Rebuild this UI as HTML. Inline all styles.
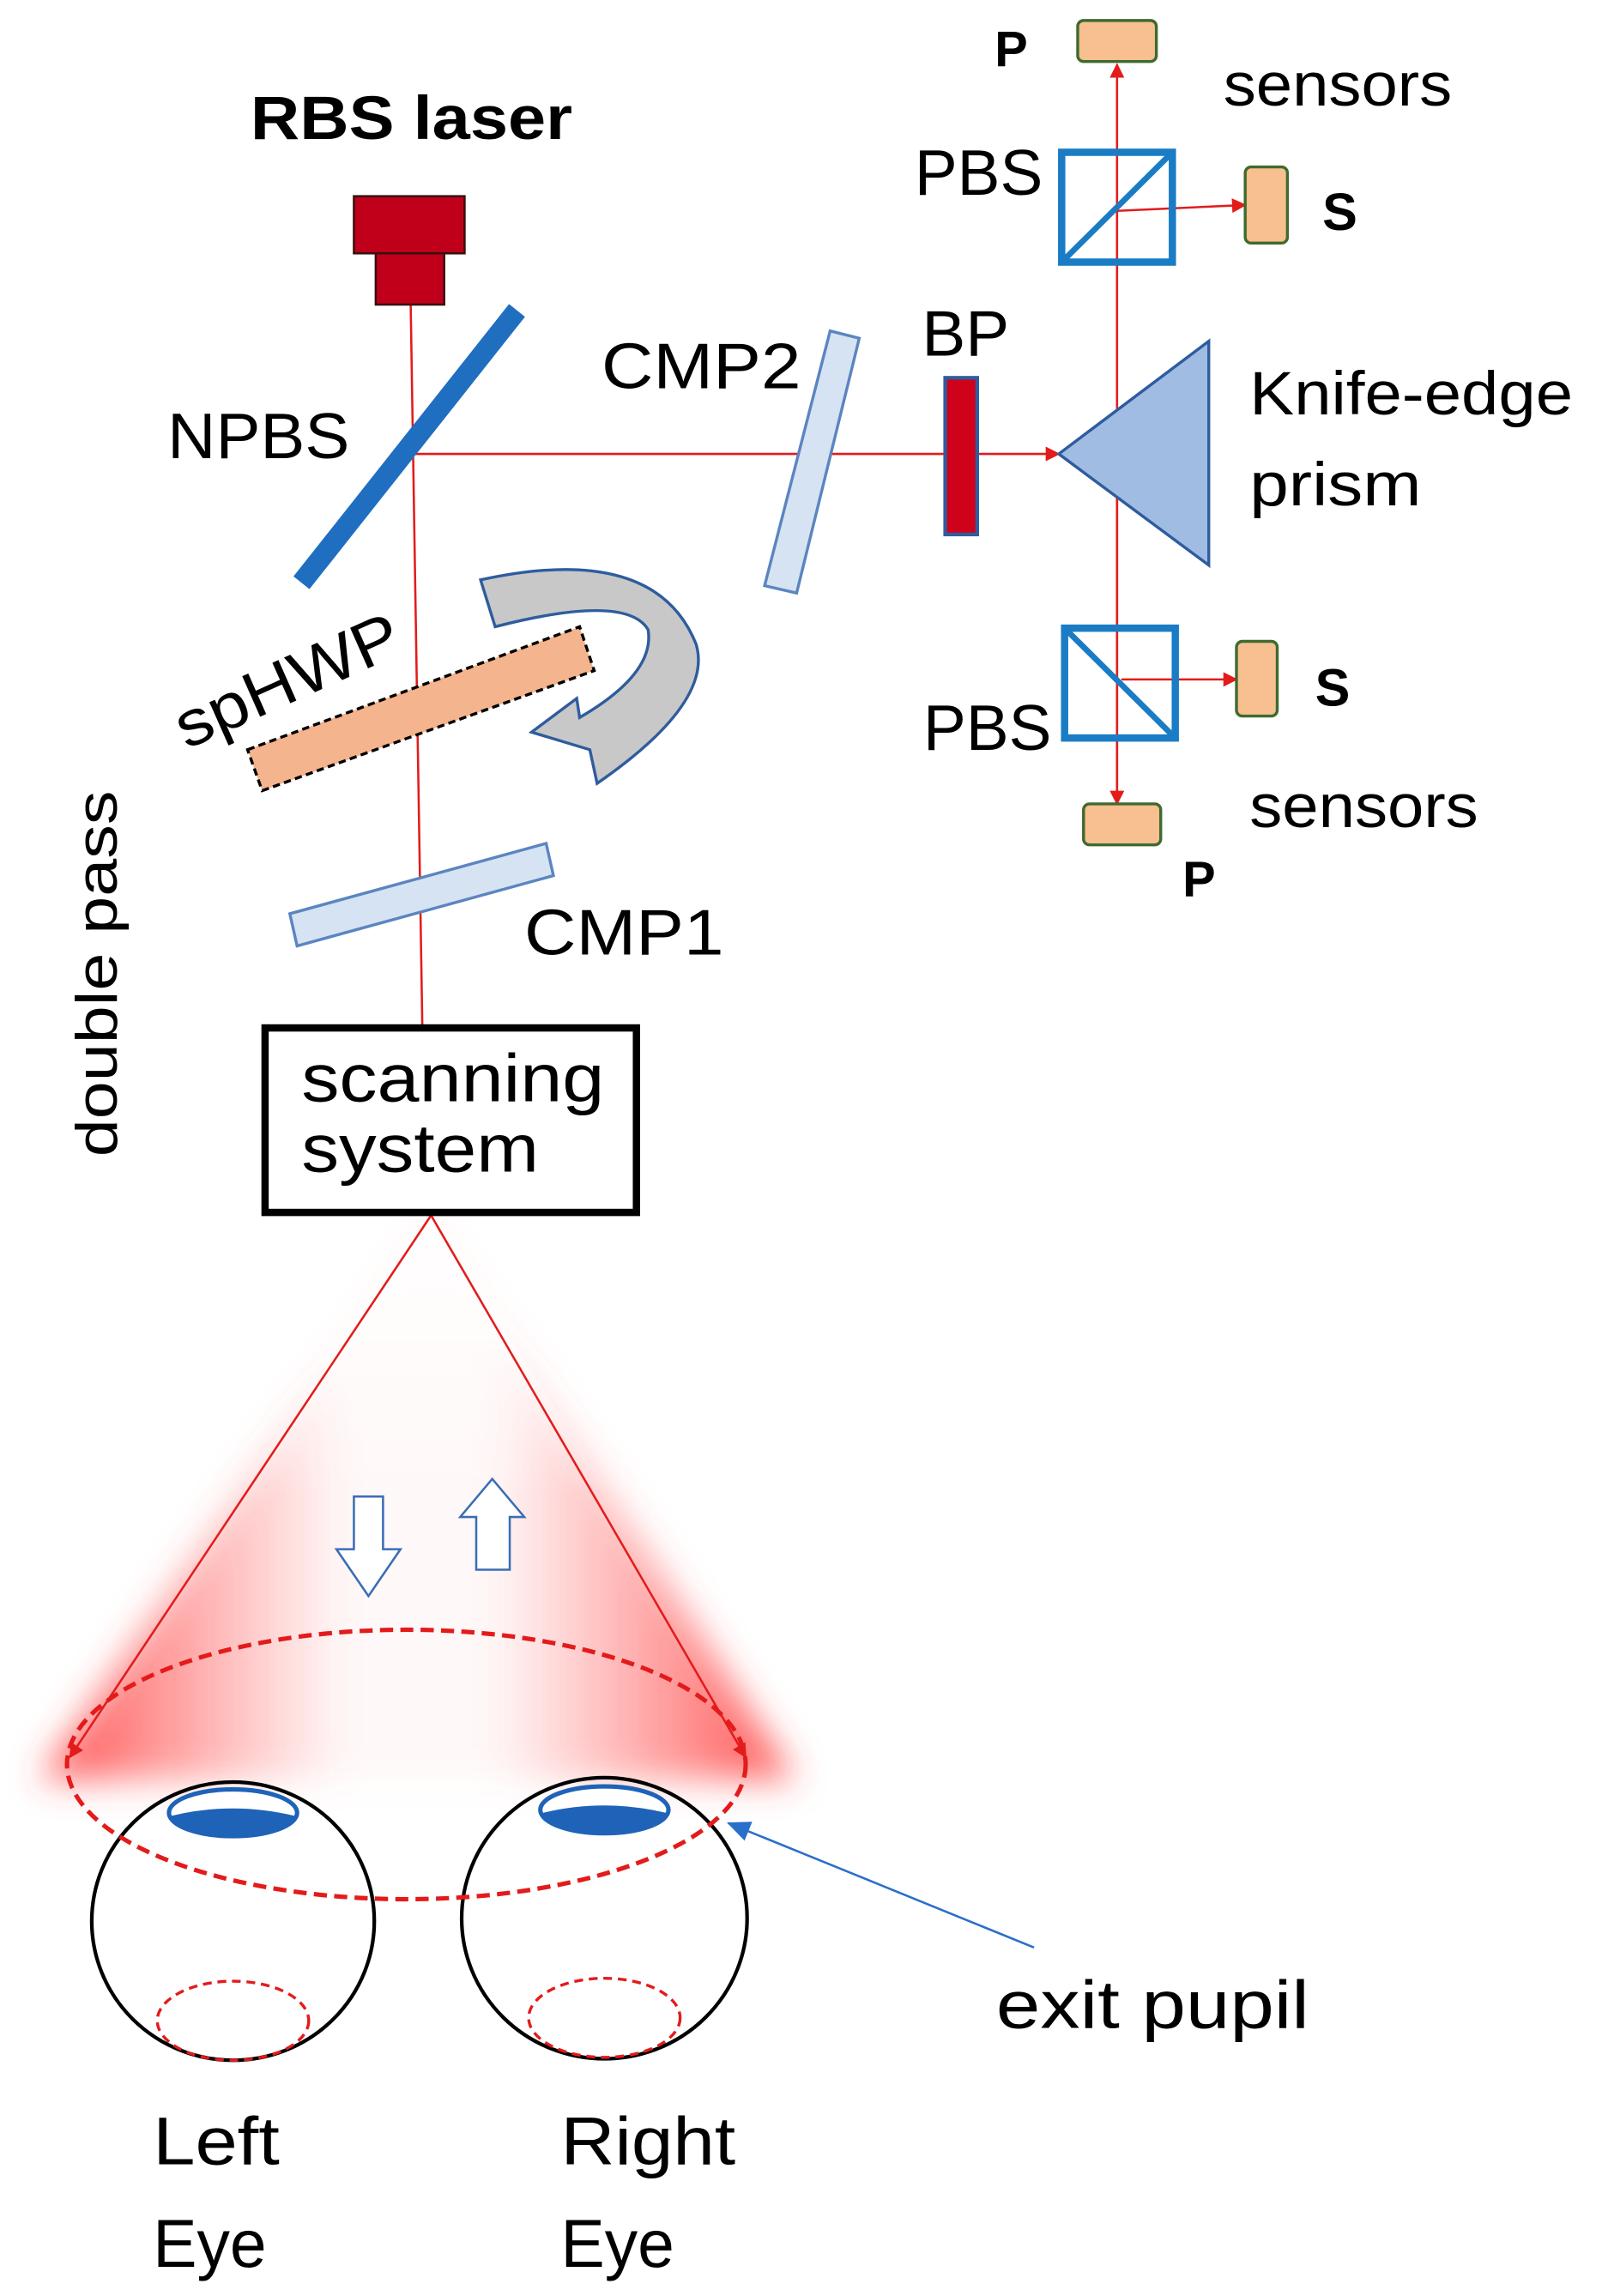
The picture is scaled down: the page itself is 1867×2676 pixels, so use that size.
<!DOCTYPE html>
<html><head><meta charset="utf-8"><style>html,body{margin:0;padding:0;background:#fff}svg{display:block}</style></head>
<body>
<svg width="1867" height="2676" viewBox="0 0 1100 1568" preserveAspectRatio="none" xmlns="http://www.w3.org/2000/svg" font-family="Liberation Sans, sans-serif">
<defs>
<marker id="ar" markerWidth="10" markerHeight="10" refX="9" refY="5" orient="auto" markerUnits="userSpaceOnUse"><path d="M0,0 L10,5 L0,10 z" fill="#e31b1b"/></marker>
<marker id="ab" markerWidth="16" markerHeight="14" refX="15" refY="7" orient="auto" markerUnits="userSpaceOnUse"><path d="M0,0 L16,7 L0,14 z" fill="#2a6fc9"/></marker>
<filter id="bl" x="-20%" y="-20%" width="140%" height="140%"><feGaussianBlur stdDeviation="12"/></filter>
<linearGradient id="cg" x1="0" y1="0" x2="1" y2="0">
<stop offset="0" stop-color="#ff3b3b" stop-opacity="0.9"/><stop offset="0.4" stop-color="#ff6060" stop-opacity="0.05"/><stop offset="0.6" stop-color="#ff6060" stop-opacity="0.05"/><stop offset="1" stop-color="#ff3b3b" stop-opacity="0.9"/></linearGradient>
<linearGradient id="cv" x1="0" y1="0" x2="0" y2="1"><stop offset="0" stop-color="#fff" stop-opacity="0.9"/><stop offset="0.5" stop-color="#fff" stop-opacity="0"/></linearGradient>
</defs>
<rect width="1100" height="1568" fill="#fff"/>
<polygon points="296,830 28,1215 545,1215" fill="url(#cg)" filter="url(#bl)"/>
<polygon points="296,830 28,1215 545,1215" fill="url(#cv)"/>
<line x1="296" y1="830" x2="48" y2="1200" stroke="#e31b1b" stroke-width="1.5" marker-end="url(#ar)"/>
<line x1="296" y1="830" x2="512" y2="1200" stroke="#e31b1b" stroke-width="1.5" marker-end="url(#ar)"/>
<path d="M243,1022 H263 V1058 H275 L253,1090 L231,1058 H243 Z" fill="#fff" stroke="#3a6db5" stroke-width="1.5"/>
<path d="M327,1072 H350 V1036 H360 L338,1010 L316,1036 H327 Z" fill="#fff" stroke="#3a6db5" stroke-width="1.5"/>
<ellipse cx="160" cy="1312" rx="97" ry="95" fill="none" stroke="#000" stroke-width="2.5"/>
<ellipse cx="415" cy="1310" rx="98" ry="96" fill="none" stroke="#000" stroke-width="2.5"/>
<ellipse cx="160" cy="1380" rx="52" ry="27" fill="none" stroke="#e31b1b" stroke-width="2" stroke-dasharray="6,4"/>
<ellipse cx="415" cy="1378" rx="52" ry="27" fill="none" stroke="#e31b1b" stroke-width="2" stroke-dasharray="6,4"/>
<ellipse cx="160" cy="1238" rx="44" ry="16" fill="#fff" stroke="#1f63b8" stroke-width="3"/>
<path d="M118,1240 Q160,1230 202,1240 Q200,1254 160,1255 Q120,1254 118,1240 Z" fill="#1f63b8"/>
<ellipse cx="415" cy="1236" rx="44" ry="16" fill="#fff" stroke="#1f63b8" stroke-width="3"/>
<path d="M373,1238 Q415,1228 457,1238 Q455,1252 415,1253 Q375,1252 373,1238 Z" fill="#1f63b8"/>
<ellipse cx="279" cy="1205" rx="233" ry="92" fill="none" stroke="#e31b1b" stroke-width="3" stroke-dasharray="9,5"/>
<line x1="710" y1="1330" x2="500" y2="1245" stroke="#2a6fc9" stroke-width="1.5" marker-end="url(#ab)"/>
<line x1="282" y1="208" x2="290" y2="702" stroke="#e31b1b" stroke-width="1.5"/>
<line x1="285" y1="310" x2="727" y2="310" stroke="#e31b1b" stroke-width="1.5" marker-end="url(#ar)"/>
<line x1="767" y1="555" x2="767" y2="44" stroke="#e31b1b" stroke-width="1.5" marker-end="url(#ar)"/>
<line x1="767" y1="300" x2="767" y2="549" stroke="#e31b1b" stroke-width="1.5" marker-end="url(#ar)"/>
<line x1="767" y1="144" x2="855" y2="140" stroke="#e31b1b" stroke-width="1.5" marker-end="url(#ar)"/>
<line x1="770" y1="464" x2="849" y2="464" stroke="#e31b1b" stroke-width="1.5" marker-end="url(#ar)"/>
<rect x="243" y="134" width="76" height="39" fill="#c0001a" stroke="#3a1010" stroke-width="1.5"/>
<rect x="258" y="173" width="47" height="35" fill="#c0001a" stroke="#3a1010" stroke-width="1.5"/>
<text x="172" y="95" font-size="42" font-weight="bold" textLength="221" lengthAdjust="spacingAndGlyphs">RBS laser</text>
<line x1="355" y1="212" x2="207" y2="398" stroke="#1f6ec0" stroke-width="14"/>
<text x="115" y="313" font-size="44" textLength="125" lengthAdjust="spacingAndGlyphs">NPBS</text>
<polygon points="570,226 590,231 547,405 525,400" fill="#d6e3f3" stroke="#5b85c0" stroke-width="2"/>
<text x="413" y="265" font-size="44" textLength="137" lengthAdjust="spacingAndGlyphs">CMP2</text>
<rect x="649" y="258" width="22" height="107" fill="#d0021b" stroke="#2e5c9e" stroke-width="2.5"/>
<text x="633" y="243" font-size="44" textLength="60" lengthAdjust="spacingAndGlyphs">BP</text>
<polygon points="727,310 830,233 830,386" fill="#a0bce2" stroke="#2e5c9e" stroke-width="2"/>
<text x="858" y="283" font-size="42" textLength="222" lengthAdjust="spacingAndGlyphs">Knife-edge</text>
<text x="858" y="345" font-size="42" textLength="118" lengthAdjust="spacingAndGlyphs">prism</text>
<rect x="729" y="104" width="76" height="75" fill="none" stroke="#1a7cc4" stroke-width="5"/>
<line x1="729" y1="179" x2="805" y2="104" stroke="#1a7cc4" stroke-width="4"/>
<text x="628" y="133" font-size="44" textLength="88" lengthAdjust="spacingAndGlyphs">PBS</text>
<rect x="740" y="14" width="54" height="28" rx="4" fill="#f8bf90" stroke="#3e6b2e" stroke-width="2"/>
<text x="683" y="45" font-size="34" font-weight="bold">P</text>
<text x="840" y="72" font-size="42" textLength="157" lengthAdjust="spacingAndGlyphs">sensors</text>
<rect x="855" y="114" width="29" height="52" rx="4" fill="#f8bf90" stroke="#3e6b2e" stroke-width="2"/>
<text x="908" y="157" font-size="36" font-weight="bold">S</text>
<rect x="731" y="429" width="76" height="75" fill="none" stroke="#1a7cc4" stroke-width="5"/>
<line x1="731" y1="429" x2="807" y2="504" stroke="#1a7cc4" stroke-width="4"/>
<text x="634" y="512" font-size="44" textLength="88" lengthAdjust="spacingAndGlyphs">PBS</text>
<rect x="849" y="438" width="28" height="51" rx="4" fill="#f8bf90" stroke="#3e6b2e" stroke-width="2"/>
<text x="903" y="482" font-size="36" font-weight="bold">S</text>
<rect x="744" y="549" width="53" height="28" rx="4" fill="#f8bf90" stroke="#3e6b2e" stroke-width="2"/>
<text x="812" y="612" font-size="34" font-weight="bold">P</text>
<text x="858" y="565" font-size="42" textLength="157" lengthAdjust="spacingAndGlyphs">sensors</text>
<polygon points="170,512 398,428 408,458 180,540" fill="#f4b48e" stroke="#000" stroke-width="2" stroke-dasharray="5,3"/>
<text x="0" y="0" font-size="44" transform="translate(128,512) rotate(-24)" textLength="165" lengthAdjust="spacingAndGlyphs">spHWP</text>
<path d="M330,396 Q450,370 478,440 Q490,480 410,535 L405,512 L365,500 L396,477 L398,490 Q450,460 445,430 Q430,405 340,428 Z" fill="#c8c8c8" stroke="#2e5c9e" stroke-width="2"/>
<polygon points="199,624 375,576 380,598 204,646" fill="#d6e3f3" stroke="#5b85c0" stroke-width="2"/>
<text x="360" y="652" font-size="44" textLength="137" lengthAdjust="spacingAndGlyphs">CMP1</text>
<text x="0" y="0" font-size="40" text-anchor="middle" transform="translate(80,665) rotate(-90)" textLength="250" lengthAdjust="spacingAndGlyphs">double pass</text>
<rect x="182" y="702" width="255" height="126" fill="#fff" stroke="#000" stroke-width="5"/>
<text x="207" y="752" font-size="46" textLength="208" lengthAdjust="spacingAndGlyphs">scanning</text>
<text x="207" y="800" font-size="46" textLength="163" lengthAdjust="spacingAndGlyphs">system</text>
<text x="684" y="1385" font-size="46" textLength="215" lengthAdjust="spacingAndGlyphs">exit pupil</text>
<text x="105" y="1478" font-size="46" textLength="87" lengthAdjust="spacingAndGlyphs">Left</text>
<text x="105" y="1548" font-size="46" textLength="78" lengthAdjust="spacingAndGlyphs">Eye</text>
<text x="385" y="1478" font-size="46" textLength="120" lengthAdjust="spacingAndGlyphs">Right</text>
<text x="385" y="1548" font-size="46" textLength="78" lengthAdjust="spacingAndGlyphs">Eye</text>
</svg>
</body></html>
